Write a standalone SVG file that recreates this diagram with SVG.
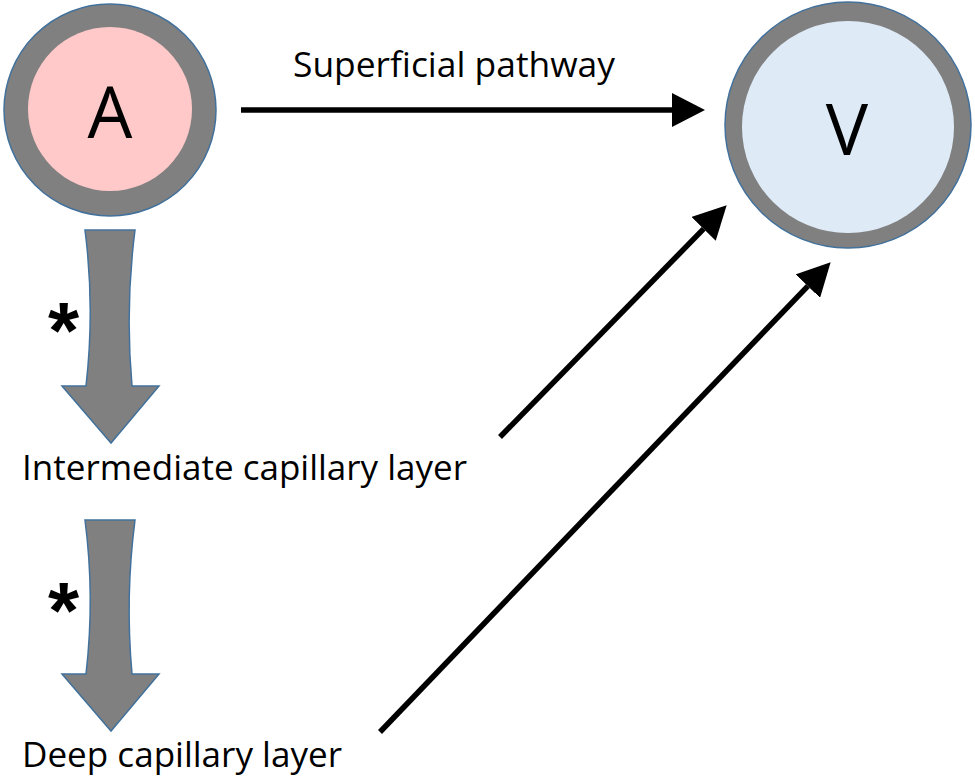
<svg xmlns="http://www.w3.org/2000/svg" width="975" height="782" viewBox="0 0 975 782">
<style>
.ring{fill:#808080;stroke:#41719C;stroke-width:1.5}
.lbl{font-family:"Open Sans","Liberation Sans",sans-serif;font-size:34px;fill:#000}
.big{font-family:"Open Sans","Liberation Sans",sans-serif;font-size:71px;fill:#000;text-anchor:middle}
.blk{fill:#808080;stroke:#41719C;stroke-width:1.5;stroke-linejoin:miter}
.ast{font-family:"Liberation Sans",sans-serif;font-weight:bold;font-size:80px;fill:#000}
.conn{stroke:#000;stroke-width:5.5;fill:none;marker-end:url(#ah)}
</style>
<defs>
<marker id="ah" markerUnits="userSpaceOnUse" markerWidth="34" markerHeight="34" refX="0" refY="17" orient="auto">
<path d="M0,0 L33,17 L0,34 z" fill="#000"/>
</marker>
</defs>
<rect width="975" height="782" fill="#fff"/>
<g id="nodeA">
<circle class="ring" cx="110" cy="110" r="106"/>
<circle cx="110" cy="109" r="82" fill="#FFC9C9"/>
<text class="big" x="110" y="138">A</text>
</g>
<g id="nodeV">
<circle class="ring" cx="848" cy="125" r="123"/>
<circle cx="848" cy="127" r="106" fill="#DEEBF7"/>
<text class="big" x="847" y="155">V</text>
</g>
<g id="blockArrow1">
<path class="blk" d="M85,230 L135,230 Q125,308 132,386 L159,386 L111,443 L62,386 L86,386 Q95,308 85,230 z"/>
<text class="ast" x="48" y="358">*</text>
</g>
<g id="blockArrow2">
<path class="blk" d="M85,520 L135,520 Q125,597 132,674 L159,674 L111,731 L62,674 L86,674 Q95,597 85,520 z"/>
<text class="ast" x="48" y="638">*</text>
</g>
<g id="labelSuperficial">
<text class="lbl" x="293" y="77" textLength="322" lengthAdjust="spacingAndGlyphs">Superficial pathway</text>
</g>
<g id="labelIntermediate">
<text class="lbl" x="22" y="480" textLength="445" lengthAdjust="spacingAndGlyphs">Intermediate capillary layer</text>
</g>
<g id="labelDeep">
<text class="lbl" x="22" y="767" textLength="320" lengthAdjust="spacingAndGlyphs">Deep capillary layer</text>
</g>
<g id="connectors">
<line class="conn" x1="241" y1="110" x2="672" y2="110"/>
<line class="conn" x1="500" y1="437" x2="703.6" y2="228.9"/>
<line class="conn" x1="380" y1="732" x2="807.8" y2="286.1"/>
</g>
</svg>
